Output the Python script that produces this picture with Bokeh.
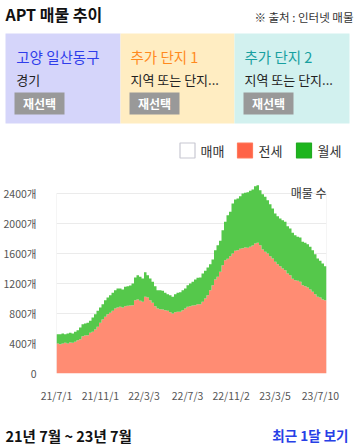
import numpy as np
from bokeh.plotting import figure
from bokeh.models import ColumnDataSource, Range1d, FixedTicker, Label
from bokeh.layouts import column
from bokeh.embed import file_html
from bokeh.resources import INLINE
from bokeh.core.properties import value

FONT = "Noto Sans CJK KR"

# ---------------- data (weekly, starting 21/7/1) ----------------
step_days = 7
jeonse = [400, 391, 400, 409, 400, 413, 409, 422, 444, 458,
          498, 507, 511, 542, 556, 587, 622, 676, 720, 756,
          791, 809, 836, 867, 880, 889, 880, 898, 902, 907,
          911, 978, 987, 969, 956, 1022, 1013, 978, 942, 898,
          867, 858, 853, 844, 836, 818, 800, 818, 822, 822,
          844, 867, 889, 898, 907, 911, 924, 924, 956, 1000,
          1044, 1111, 1178, 1253, 1289, 1356, 1444, 1511, 1529, 1564,
          1600, 1636, 1644, 1662, 1671, 1680, 1676, 1689, 1707, 1733,
          1742, 1711, 1653, 1622, 1600, 1564, 1533, 1489, 1458, 1431,
          1400, 1378, 1333, 1311, 1262, 1244, 1236, 1222, 1178, 1164,
          1147, 1120, 1089, 1058, 1022, 1013, 987, 978]
wolse = [124, 133, 133, 115, 133, 129, 124, 134, 134, 155,
         160, 160, 165, 160, 191, 204, 214, 204, 204, 222,
         222, 235, 240, 244, 253, 244, 240, 258, 262, 266,
         289, 302, 324, 320, 311, 329, 298, 289, 280, 266,
         244, 253, 249, 232, 222, 226, 222, 240, 254, 262,
         267, 266, 289, 302, 315, 342, 352, 356, 377, 369,
         369, 347, 342, 391, 422, 413, 467, 511, 582, 592,
         667, 684, 689, 702, 729, 729, 742, 747, 746, 765,
         769, 733, 738, 734, 711, 694, 667, 644, 640, 636,
         644, 644, 631, 622, 614, 600, 586, 591, 578, 578,
         577, 569, 555, 533, 511, 489, 480, 453]

tick_days = [0, 123, 245, 367, 489, 612, 739]
tick_labels = ["21/7/1", "21/11/1", "22/3/3", "22/7/3", "22/11/2", "23/3/5", "23/7/10"]
y_ticks = [0, 400, 800, 1200, 1600, 2000, 2400]
y_labels = ["0", "400개", "800개", "1200개", "1600개", "2000개", "2400개"]

legend_names = ["매매", "전세", "월세"]
panel_titles = ["고양 일산동구", "추가 단지 1", "추가 단지 2"]
panel_subtitles = ["경기", "지역 또는 단지...", "지역 또는 단지..."]
button_label = "재선택"
page_title = "APT 매물 추이"
source_note = "※ 출처 : 인터넷 매물"
period_text = "21년 7월 ~ 23년 7월"
recent_link = "최근 1달 보기"
y_axis_title = "매물 수"

C_JEONSE = "#FF8C73"
C_WOLSE = "#55C84B"

W = 358


def deco_fig(h):
    f = figure(width=W, height=h, x_range=Range1d(0, W), y_range=Range1d(h, 0),
               output_backend="svg", toolbar_location=None, min_border=0,
               min_border_left=0, min_border_right=0, min_border_top=0, min_border_bottom=0,
               x_axis_type=None, y_axis_type=None, frame_align=False)
    f.grid.visible = False
    f.outline_line_color = None
    return f


def txt(f, xs, ys, texts, size, color, align="left", bold=False):
    f.text(x=xs, y=ys, text=texts, text_font=value(FONT), text_font_size=size,
           text_color=color, text_align=align, text_baseline="middle",
           text_font_style="bold" if bold else "normal")


# ---------------- header ----------------
HH = 165
hdr = deco_fig(HH)
txt(hdr, [5], [13.5], [page_title], "16px", "#111111", bold=True)
txt(hdr, [353], [16.5], [source_note], "11.5px", "#333333", align="right")

hdr.quad(left=[5, 120, 234], right=[120, 234, 349], top=[33] * 3, bottom=[123] * 3,
         fill_color=["#D5D5FA", "#FFEDC2", "#D2F1EF"], line_color=None)
txt(hdr, [15.7, 130, 244], [56] * 3, panel_titles, "14.5px", ["#2F3DEB", "#FF8A1E", "#17A0A0"])
txt(hdr, [15.7, 130, 244], [79] * 3, panel_subtitles, "13px", "#222222")
hdr.quad(left=[14, 129, 243], right=[64, 179, 293], top=[92] * 3, bottom=[114] * 3,
         fill_color="#999999", line_color=None)
txt(hdr, [39, 154, 268], [103] * 3, [button_label] * 3, "12px", "white", align="center", bold=True)

hdr.quad(left=[179.5, 237, 296], right=[194.5, 252, 311], top=[142.5] * 3, bottom=[157.5] * 3,
         fill_color=["white", "#FF6347", "#1DB51D"], line_color=["#C8C8D2", "#FF7A5C", "#22AA22"],
         line_width=1.2)
txt(hdr, [200, 258, 317], [149.5] * 3, legend_names, "13px", "#333333")

# ---------------- chart ----------------
n = len(jeonse)
x = np.arange(n + 1) * step_days
j = np.array(jeonse + [jeonse[-1]], dtype=float)
w = np.array(wolse + [wolse[-1]], dtype=float)
src = ColumnDataSource(dict(x=x, zero=np.zeros(n + 1), j=j, total=j + w))

X0, X1 = float(x[0]), float(x[-1])
Y_TOP = 2533
p = figure(width=W, height=240, x_range=Range1d(X0, X1), y_range=Range1d(0, Y_TOP),
           output_backend="svg", toolbar_location=None, frame_align=False,
           min_border_left=56, min_border_right=32, min_border_top=18, min_border_bottom=32)
p.outline_line_color = None
p.xgrid.visible = False
p.ygrid.ticker = FixedTicker(ticks=y_ticks)
p.ygrid.grid_line_color = "#EBEBEB"

p.segment(x0=[X0, X1], y0=[0, 0], x1=[X0, X1], y1=[max(y_ticks)] * 2,
          line_color="#EBEBEB", line_width=1)

p.varea_step(x="x", y1="zero", y2="j", step_mode="after", fill_color=C_JEONSE, source=src)
p.varea_step(x="x", y1="j", y2="total", step_mode="after", fill_color=C_WOLSE, source=src)

for ax in (p.xaxis[0], p.yaxis[0]):
    ax.axis_line_color = None
    ax.major_tick_line_color = None
    ax.minor_tick_line_color = None
    ax.major_label_text_font = FONT
    ax.major_label_text_color = "#555555"
    ax.major_label_text_font_size = "10.5px"

p.xaxis.ticker = FixedTicker(ticks=tick_days)
p.xaxis.major_label_overrides = {t: l for t, l in zip(tick_days, tick_labels)}
p.xaxis.major_label_standoff = 8
p.yaxis.ticker = FixedTicker(ticks=y_ticks)
p.yaxis.major_label_overrides = {t: l for t, l in zip(y_ticks, y_labels)}
p.yaxis.major_label_standoff = 14

p.add_layout(Label(x=X1, y=Y_TOP, text=y_axis_title, text_align="right", text_baseline="top",
                   text_font=FONT, text_font_size="12px", text_color="#333333"))

# ---------------- footer ----------------
FH = 42
ftr = deco_fig(FH)
txt(ftr, [5], [29.5], [period_text], "14.5px", "#111111", bold=True)
txt(ftr, [348], [29.5], [recent_link], "13.5px", "#2740E6", align="right", bold=True)

layout = column(hdr, p, ftr, spacing=0)
open("out.html", "w").write(file_html(layout, INLINE))
